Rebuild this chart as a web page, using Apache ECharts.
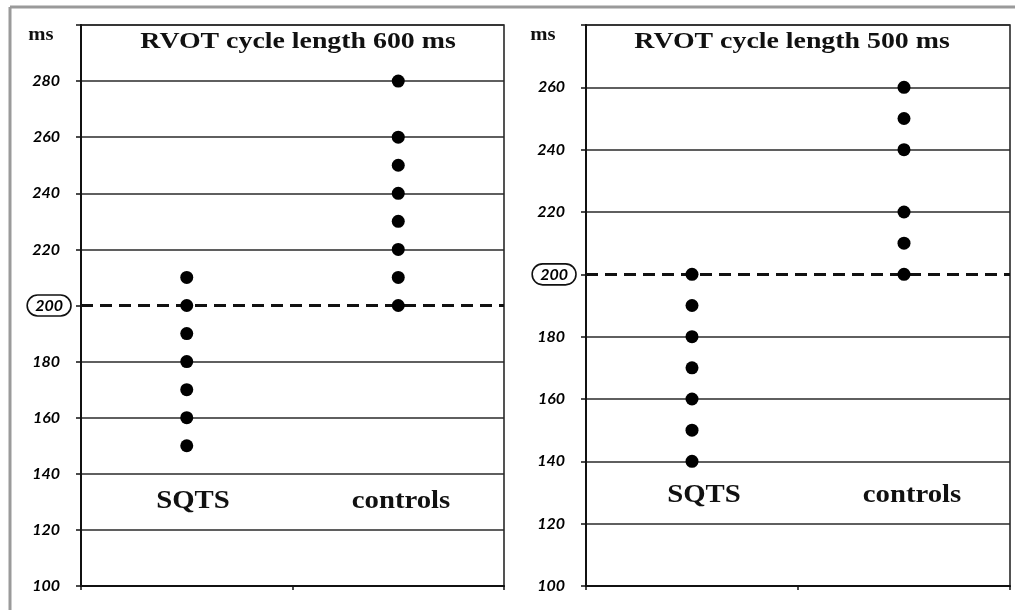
<!DOCTYPE html>
<html>
<head>
<meta charset="utf-8">
<script src="https://cdn.jsdelivr.net/npm/echarts@6/dist/echarts.min.js"></script>
<style>html,body{margin:0;padding:0;background:#fff}#c{width:1015px;height:610px}</style>
</head>
<body>
<div id="c"></div>
<script>
const categories = ['SQTS', 'controls'];
const titles = ['RVOT cycle length 600 ms', 'RVOT cycle length 500 ms'];
const sqts600 = [210, 200, 190, 180, 170, 160, 150];
const controls600 = [280, 260, 250, 240, 230, 220, 210, 200];
const sqts500 = [200, 190, 180, 170, 160, 150, 140];
const controls500 = [260, 250, 240, 220, 210, 200];
const threshold = 200;
const yMin = 100, yMax600 = 300, yMax500 = 280, yStep = 20;

const chart = echarts.init(document.getElementById('c'), null, {renderer: 'canvas'});

function splitColors(min, max, step) {
  const arr = [];
  for (let v = min; v <= max; v += step) arr.push(v === threshold ? 'rgba(0,0,0,0)' : '#2a2a2a');
  return arr;
}
function yAxis(gridIndex, max) {
  return {
    type: 'value', gridIndex, min: yMin, max, interval: yStep,
    axisLine: {show: true, lineStyle: {color: '#111', width: 2}},
    axisTick: {show: true, length: 5, lineStyle: {color: '#111', width: 1.5}},
    splitLine: {show: true, lineStyle: {color: splitColors(yMin, max, yStep), width: 1.6}},
    axisLabel: {
      margin: 10,
      formatter: v => v === max ? '' : (v === threshold ? '{c|' + v + '}' : '{n|' + v + '}'),
      rich: {
        n: {fontFamily: 'Lato', fontWeight: 'bold', fontStyle: 'italic', fontSize: 16, color: '#000', padding: [0, 11, 0, 0]},
        c: {fontFamily: 'Lato', fontWeight: 'bold', fontStyle: 'italic', fontSize: 16, color: '#000',
            borderColor: '#111', borderWidth: 1.6, borderRadius: 11, padding: [3, 8, 2, 8]}
      }
    }
  };
}
function xAxis(gridIndex) {
  return {
    type: 'category', gridIndex, data: categories, boundaryGap: true,
    axisLine: {show: true, lineStyle: {color: '#111', width: 2}},
    axisTick: {show: true, length: 4, lineStyle: {color: '#111', width: 1.5}},
    axisLabel: {show: false}, splitLine: {show: false}
  };
}
function dots(idx, cat, vals, withLine) {
  const s = {
    type: 'scatter', xAxisIndex: idx, yAxisIndex: idx,
    data: vals.map(v => [cat, v]), symbol: 'circle', symbolSize: 13,
    itemStyle: {color: '#000', opacity: 1}, z: 5, silent: true
  };
  if (withLine) {
    s.markLine = {
      silent: true, symbol: 'none', label: {show: false},
      lineStyle: {color: '#111', width: 3, type: [12, 7], opacity: 1},
      data: [{yAxis: threshold}], z: 3
    };
  }
  return s;
}
const serif = '"Liberation Serif", "Times New Roman", serif';
function txt(text, x, y, size, sx) {
  return {type: 'text', x, y, scaleX: sx, style: {text, font: 'bold ' + size + 'px ' + serif, fill: '#111', align: 'center', verticalAlign: 'middle'}, z: 10, silent: true};
}
chart.setOption({
  animation: false,
  grid: [
    {left: 81, top: 25, width: 423, height: 561, show: true, borderColor: '#2a2a2a', borderWidth: 1.6, backgroundColor: 'transparent'},
    {left: 586, top: 25, width: 424, height: 561, show: true, borderColor: '#2a2a2a', borderWidth: 1.6, backgroundColor: 'transparent'}
  ],
  xAxis: [xAxis(0), xAxis(1)],
  yAxis: [yAxis(0, yMax600), yAxis(1, yMax500)],
  series: [
    dots(0, categories[0], sqts600, true),
    dots(0, categories[1], controls600, false),
    dots(1, categories[0], sqts500, true),
    dots(1, categories[1], controls500, false)
  ],
  graphic: [
    {type: 'line', shape: {x1: 10, y1: 7, x2: 1015, y2: 7}, style: {stroke: '#9a9a9a', lineWidth: 3}, silent: true},
    {type: 'line', shape: {x1: 10, y1: 7, x2: 10, y2: 610}, style: {stroke: '#9a9a9a', lineWidth: 3}, silent: true},
    txt(titles[0], 298, 42, 24, 1.16),
    txt(titles[1], 792, 42, 24, 1.16),
    txt('ms', 41, 35, 18, 1.15),
    txt('ms', 543, 35, 18, 1.15),
    txt(categories[0], 193, 502, 25, 1.15),
    txt(categories[1], 401, 502, 25, 1.15),
    txt(categories[0], 704, 496, 25, 1.15),
    txt(categories[1], 912, 496, 25, 1.15)
  ]
});
</script>
</body>
</html>
